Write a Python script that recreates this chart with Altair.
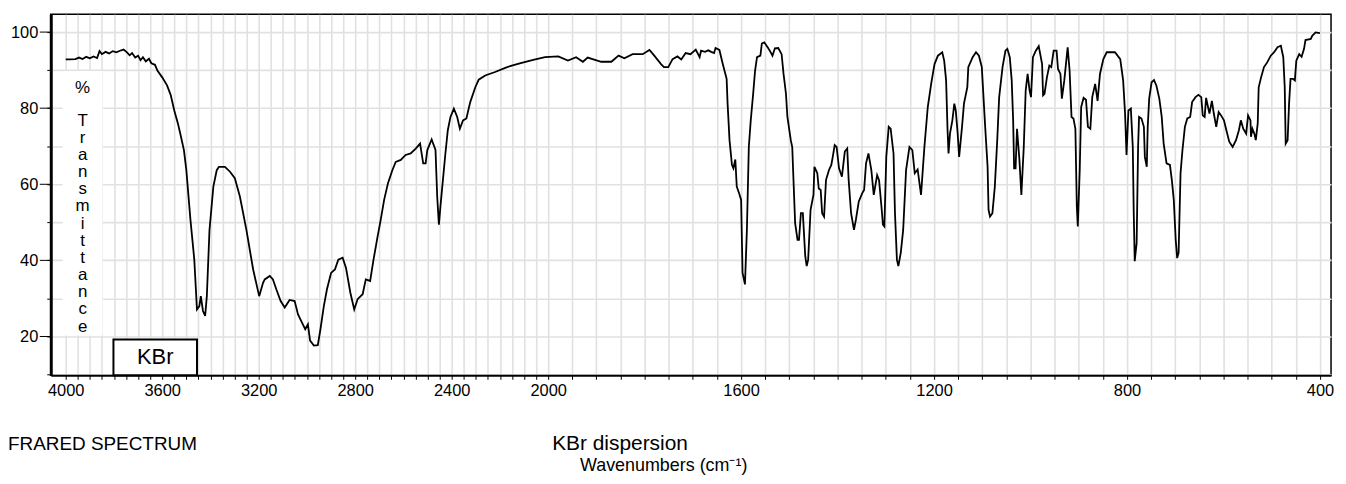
import altair as alt
import pandas as pd

# ---------------- data ----------------
# 4000 - 2288 cm-1
WN_1 = [4000, 3985, 3960, 3945, 3930, 3915, 3900, 3885, 3870, 3860,
        3850, 3835, 3820, 3805, 3790, 3775, 3760, 3745, 3735, 3725,
        3712, 3700, 3690, 3680, 3668, 3655, 3645, 3630, 3620, 3600,
        3580, 3565, 3550, 3535, 3525, 3510, 3500, 3483, 3467, 3456,
        3446, 3440, 3431, 3422, 3415, 3404, 3388, 3374, 3365, 3340,
        3319, 3299, 3278, 3251, 3223, 3198, 3182, 3175, 3154, 3141,
        3127, 3109, 3092, 3072, 3051, 3037, 3017, 3007, 2996, 2987,
        2971, 2955, 2944, 2930, 2917, 2900, 2884, 2870, 2852, 2838,
        2820, 2804, 2790, 2769, 2756, 2738, 2724, 2707, 2694, 2680,
        2664, 2646, 2632, 2611, 2591, 2570, 2549, 2531, 2518, 2508,
        2501, 2483, 2467, 2460, 2453, 2446, 2435, 2426, 2416, 2405,
        2391, 2377, 2366, 2353, 2339, 2323, 2302, 2288]
T_1 = [92.8, 92.8, 92.9, 93.3, 92.9, 93.5, 93.1, 93.6, 93.2, 95.0,
       94.2, 94.8, 94.4, 95.0, 94.7, 95.1, 95.4, 94.6, 93.9, 94.5,
       93.3, 93.8, 92.6, 93.4, 92.3, 93.0, 91.8, 91.4, 89.9, 88.1,
       86.0, 83.5, 79.4, 76.0, 73.3, 69.0, 63.7, 50.7, 40.2, 27.1,
       28.0, 30.6, 26.7, 25.4, 30.6, 48.0, 59.4, 63.7, 64.6, 64.6,
       63.3, 61.6, 56.8, 48.0, 37.6, 30.6, 34.1, 35.0, 35.9, 35.0,
       32.4, 29.3, 27.6, 29.6, 29.3, 25.8, 23.2, 21.9, 23.2, 18.9,
       17.6, 17.7, 21.9, 28.0, 32.4, 36.7, 37.6, 40.2, 40.7, 38.0,
       31.5, 27.1, 29.8, 31.1, 35.0, 34.6, 40.2, 46.3, 50.7, 55.9,
       60.3, 63.7, 65.9, 66.4, 67.7, 68.1, 69.4, 70.7, 65.5, 65.5,
       69.0, 71.8, 69.0, 56.8, 49.4, 54.6, 62.0, 68.1, 74.2, 77.7,
       79.9, 77.7, 74.6, 76.8, 77.3, 81.6, 85.5, 87.5]

# 2261 - 1258 cm-1
WN_2 = [2261, 2220, 2178, 2151, 2110, 2062, 2013, 1979, 1959, 1942,
        1928, 1918, 1890, 1869, 1854, 1842, 1825, 1804, 1790, 1780,
        1766, 1760, 1751, 1742, 1732, 1724, 1715, 1705, 1694, 1686,
        1683, 1675, 1668, 1662, 1656, 1653, 1645, 1638, 1630, 1628,
        1624, 1619, 1616, 1612, 1609, 1604, 1600, 1597, 1592, 1588,
        1584, 1580, 1575, 1571, 1567, 1560, 1557, 1552, 1545, 1540,
        1535, 1530, 1523, 1516, 1512, 1507, 1504, 1497, 1494, 1488,
        1483, 1480, 1476, 1472, 1467, 1464, 1461, 1456, 1450, 1448,
        1442, 1439, 1435, 1432, 1428, 1424, 1418, 1413, 1410, 1406,
        1402, 1397, 1391, 1385, 1380, 1377, 1372, 1366, 1362, 1356,
        1349, 1345, 1341, 1336, 1330, 1325, 1318, 1314, 1309, 1306,
        1303, 1299, 1294, 1290, 1284, 1281, 1277, 1274, 1269, 1264, 1258]
T_2 = [88.6, 89.5, 90.6, 91.2, 91.9, 92.7, 93.4, 93.6, 92.5, 93.4,
       92.2, 93.3, 92.2, 92.2, 93.8, 93.1, 94.2, 94.2, 95.3, 93.8,
       91.6, 90.8, 90.8, 92.9, 93.6, 92.8, 94.5, 94.2, 95.4, 93.4,
       95.1, 94.8, 95.2, 94.8, 94.5, 95.8, 95.3, 91.6, 87.7, 81.2,
       71.6, 65.1, 64.2, 66.5, 59.4, 57.6, 55.9, 36.7, 33.7, 48.0,
       69.8, 76.8, 83.8, 89.9, 93.4, 93.8, 97.0, 97.3, 96.0, 95.0,
       93.8, 95.7, 95.8, 94.2, 89.0, 83.8, 77.7, 71.6, 69.8, 49.8,
       45.4, 45.4, 52.4, 52.4, 41.1, 38.5, 40.2, 53.3, 57.2, 64.6,
       62.9, 58.9, 58.5, 52.4, 51.5, 61.1, 63.7, 65.1, 67.2, 70.3,
       69.8, 64.2, 62.0, 68.6, 69.4, 61.1, 52.4, 48.0, 50.7, 55.5,
       57.6, 58.5, 65.5, 68.1, 63.7, 57.2, 62.4, 61.1, 54.1, 49.4,
       48.9, 67.2, 75.1, 74.6, 68.1, 52.4, 40.2, 38.5, 42.0, 48.0, 63.7]

# 1251 - 400 cm-1
WN_3 = [1251, 1245, 1240, 1234, 1227, 1220, 1213, 1206, 1199, 1192,
        1183, 1179, 1175, 1172, 1170, 1167, 1162, 1158, 1155, 1151,
        1148, 1142, 1138, 1131, 1129, 1120, 1113, 1107, 1101, 1094,
        1089, 1087, 1084, 1079, 1074, 1069, 1065, 1058, 1052, 1048,
        1043, 1039, 1036, 1034, 1031, 1028, 1023, 1019, 1014, 1010,
        1006, 1002, 999, 995, 989, 983, 976, 974, 971, 966,
        961, 957, 952, 946, 943, 938, 935, 930, 923, 919,
        915, 911, 907, 904, 902, 898, 895, 890, 885, 881,
        876, 872, 866, 861, 856, 849, 842, 825, 814, 808,
        804, 801, 797, 792, 788, 786, 784, 780, 777, 775,
        770, 765, 763, 759, 757, 754, 749, 744, 739, 733,
        728, 724, 718, 711, 707, 703, 699, 696, 693, 689,
        685, 680, 675, 669, 665, 658, 652, 646, 643, 639,
        636, 632, 629, 624, 620, 615, 610, 605, 599, 594,
        588, 581, 574, 568, 564, 559, 553, 549, 544, 543,
        540, 536, 533, 529, 527, 522, 516, 509, 502, 495,
        488, 481, 476, 473, 471, 467, 464, 461, 456, 452,
        449, 443, 438, 433, 430, 419, 416, 409, 400]
T_3 = [69.8, 69.0, 62.9, 63.9, 57.2, 69.8, 80.3, 86.4, 91.6, 93.8,
       94.7, 92.5, 87.3, 74.2, 68.1, 73.3, 76.8, 81.2, 79.4, 73.3,
       67.2, 75.1, 81.2, 85.5, 90.8, 93.4, 94.7, 93.8, 90.8, 75.1,
       64.6, 53.3, 51.5, 52.4, 59.4, 71.6, 82.9, 90.8, 95.1, 95.6,
       93.4, 87.3, 76.8, 64.2, 64.2, 74.6, 66.4, 57.2, 69.8, 84.7,
       89.0, 84.7, 82.9, 93.4, 95.1, 96.3, 91.6, 83.4, 83.8, 88.1,
       91.2, 90.8, 95.1, 95.1, 90.3, 89.0, 82.5, 87.3, 96.0, 89.9,
       77.7, 77.3, 74.6, 54.2, 48.9, 63.7, 80.3, 82.7, 82.2, 75.1,
       74.6, 82.9, 86.4, 81.9, 89.0, 92.9, 94.7, 94.7, 92.9, 87.3,
       78.6, 67.7, 79.4, 79.9, 69.8, 52.4, 39.8, 44.6, 69.8, 77.7,
       77.3, 75.1, 67.2, 64.6, 75.1, 82.5, 86.8, 87.4, 85.9, 82.5,
       77.7, 70.7, 65.5, 65.1, 61.1, 55.9, 45.4, 40.6, 42.0, 62.9,
       69.0, 75.1, 77.3, 77.7, 81.6, 82.9, 83.5, 82.9, 78.1, 77.7,
       82.7, 80.3, 78.6, 81.9, 78.6, 75.1, 79.0, 78.1, 76.8, 74.2,
       71.2, 69.8, 71.6, 74.2, 76.8, 74.6, 73.3, 78.1, 76.8, 72.5,
       74.6, 73.3, 71.6, 76.0, 85.5, 88.1, 90.8, 92.1, 93.8, 94.7,
       96.0, 96.4, 93.4, 85.5, 70.7, 71.6, 81.2, 87.7, 87.7, 87.3,
       92.5, 94.2, 93.5, 95.6, 97.9, 98.2, 99.0, 99.9, 99.7]

X_LABELS = [4000, 3600, 3200, 2800, 2400, 2000, 1600, 1200, 800, 400]
X_TICKS = list(range(4000, 399, -50))
Y_LABELS = [20, 40, 60, 80, 100]
Y_TICKS = list(range(10, 101, 10))

YLABEL_WORD = ["T", "r", "a", "n", "s", "m", "i", "t", "t", "a", "n", "c", "e"]

# ---------------- chart ----------------
spec = pd.DataFrame({"wn": WN_1 + WN_2 + WN_3, "t": T_1 + T_2 + T_3})
spec["idx"] = range(len(spec))

FONT = "Liberation Sans"
W, H = 1287, 363
GRID = "#e1e1e1"

XSCALE = alt.Scale(domain=[4062, 2000, 377], range=[0, 500, W], zero=False, nice=False)
YSCALE = alt.Scale(domain=[9.8, 104.7], zero=False, nice=False)

label_test = " || ".join(f"datum.value == {v}" for v in X_LABELS)
X_AXIS = alt.Axis(values=X_TICKS, labelExpr=f"({label_test}) ? datum.value : ''",
                  grid=True, gridColor=GRID, gridWidth=1.6,
                  ticks=True, tickSize=4, tickColor="black", tickWidth=1,
                  domain=True, domainColor="black", domainWidth=2,
                  labelFont=FONT, labelFontSize=16.5, labelColor="black",
                  labelPadding=3, labelOverlap=False, labelFlush=False,
                  labelBound=False, title=None)

y_test = " || ".join(f"datum.value == {v}" for v in Y_LABELS)
Y_AXIS = alt.Axis(values=Y_TICKS, labelExpr=f"({y_test}) ? datum.value : ''",
                  grid=True, gridColor=GRID, gridWidth=1.6,
                  ticks=True, tickSize=4, tickColor="black", tickWidth=1,
                  domain=True, domainColor="black", domainWidth=3,
                  labelFont=FONT, labelFontSize=16.5, labelColor="black",
                  labelPadding=9, labelOverlap=False, labelBound=False,
                  title=None)

line = alt.Chart(spec).mark_line(color="black", strokeWidth=1.8).encode(
    x=alt.X("wn:Q", scale=XSCALE, axis=X_AXIS),
    y=alt.Y("t:Q", scale=YSCALE, axis=Y_AXIS),
    order=alt.Order("idx:Q"),
)

major = alt.Chart(pd.DataFrame({"v": Y_LABELS})).mark_rule(color="black", strokeWidth=1).encode(
    y=alt.Y("v:Q", scale=YSCALE, axis=Y_AXIS),
    x=alt.value(-11), x2=alt.value(0),
)

one = pd.DataFrame({"k": [0]})

trans_box = alt.Chart(one).mark_rect(fill="white").encode(
    x=alt.value(12), x2=alt.value(52), y=alt.value(57), y2=alt.value(323))

pct_text = alt.Chart(one).mark_text(
    text="%", baseline="top", align="center", font=FONT, fontSize=17, color="black",
).encode(x=alt.value(32), y=alt.value(66))

trans_text = alt.Chart(one).mark_text(
    text="\n".join(YLABEL_WORD), lineBreak="\n", lineHeight=17.25,
    baseline="top", align="center", font=FONT, fontSize=17, color="black",
).encode(x=alt.value(32), y=alt.value(99))

kbr_box = alt.Chart(one).mark_rect(fill="white", stroke="black", strokeWidth=2).encode(
    x=alt.value(63), x2=alt.value(147), y=alt.value(327), y2=alt.value(H))

kbr_text = alt.Chart(one).mark_text(
    text="KBr", align="center", baseline="middle", font=FONT, fontSize=22, color="black",
).encode(x=alt.value(105), y=alt.value(345))

title_left = alt.Chart(one).mark_text(
    text="FRARED SPECTRUM", align="left", baseline="alphabetic",
    font=FONT, fontSize=19, color="black",
).encode(x=alt.value(-43), y=alt.value(438))

title_mid = alt.Chart(one).mark_text(
    text="KBr dispersion", align="left", baseline="alphabetic",
    font=FONT, fontSize=21, color="black",
).encode(x=alt.value(504), y=alt.value(438))

xlabel = alt.Chart(one).mark_text(
    text="Wavenumbers (cm\u207b\u00b9)", align="left", baseline="alphabetic",
    font=FONT, fontSize=18, color="black",
).encode(x=alt.value(532), y=alt.value(459))

chart = alt.layer(
    line, major, trans_box, pct_text, trans_text, kbr_box, kbr_text,
    title_left, title_mid, xlabel
).properties(
    width=W, height=H,
    autosize=alt.AutoSizeParams(type="none"),
    padding={"left": 43, "top": 5, "right": 7, "bottom": 100},
    background="white",
).configure_view(stroke="black", strokeWidth=1.5)

chart.save("out.html", embed_options={"renderer": "svg", "actions": False})
